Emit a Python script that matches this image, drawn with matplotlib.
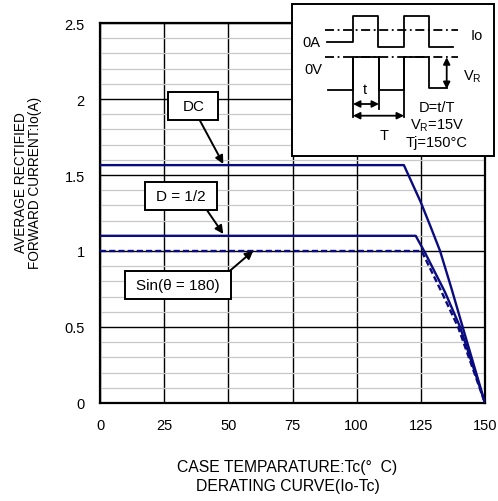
import matplotlib.pyplot as plt
from matplotlib.ticker import MultipleLocator

plt.rcParams['font.family'] = ['Liberation Sans', 'DejaVu Sans']

# derating curves
dc_tc = [0, 118.4, 125, 128.8, 132.5, 137, 141.3, 150]
dc_io = [1.565, 1.565, 1.32, 1.16, 1.0, 0.75, 0.5, 0]
half_tc = [0, 123, 126.6, 134.4, 140.3, 150]
half_io = [1.10, 1.10, 0.99, 0.73, 0.5, 0]
sin_tc = [0, 125.3, 133.1, 139.5, 150]
sin_io = [1.0, 1.0, 0.73, 0.5, 0]

xticks = [0, 25, 50, 75, 100, 125, 150]
yticks = [0, 0.5, 1, 1.5, 2, 2.5]
ylabels = ['0', '0.5', '1', '1.5', '2', '2.5']
navy = '#0b0b80'

W, H = 498, 502
fig = plt.figure(figsize=(W / 100, H / 100), dpi=100)
ax = fig.add_axes([100 / W, 1 - 404 / H, 385 / W, 380 / H])

ax.set_xlim(0, 150)
ax.set_ylim(0, 2.5)
ax.set_xticks(xticks)
ax.set_yticks(yticks)
ax.set_yticklabels(ylabels)
ax.yaxis.set_minor_locator(MultipleLocator(0.1))
ax.grid(which='minor', axis='y', color='#c8c8c8', lw=0.9)
ax.grid(which='major', color='black', lw=1.0)
ax.tick_params(which='both', length=0, labelsize=10.5)
ax.tick_params(axis='y', pad=11)
ax.tick_params(axis='x', pad=11)
for s in ax.spines.values():
    s.set_linewidth(1.6)
ax.set_axisbelow(True)

ax.plot(dc_tc, dc_io, color=navy, lw=1.7, zorder=3)
ax.plot(half_tc, half_io, color=navy, lw=1.7, zorder=3)
ax.plot(sin_tc, sin_io, color=navy, lw=1.7, ls=(0, (2.6, 1.3)), zorder=3)

# overlay in pixel coordinates for the callouts and the waveform sketch
ov = fig.add_axes([0, 0, 1, 1], zorder=5)
ov.set_xlim(0, W)
ov.set_ylim(H, 0)
ov.axis('off')
ov.patch.set_alpha(0)

# callout boxes: (x0, y0, x1, y1) in pixels
def callout(txt, x0, y0, x1, y1):
    ov.add_patch(plt.Rectangle((x0, y0), x1 - x0, y1 - y0, fc='white', ec='black', lw=1.4))
    ov.text((x0 + x1) / 2, (y0 + y1) / 2 + 0.5, txt, ha='center', va='center', fontsize=11)

arr = dict(arrowstyle='-|>', color='black', lw=1.4, mutation_scale=12, shrinkA=0, shrinkB=0)
ov.annotate('', xy=(223.3, 165), xytext=(200, 121.7), arrowprops=arr)
ov.annotate('', xy=(223.3, 235), xytext=(207.3, 211.7), arrowprops=arr)
ov.annotate('', xy=(253.3, 251.7), xytext=(230, 271.7), arrowprops=arr)
callout('DC', 168.3, 92.7, 218.3, 120.7)
callout('D = 1/2', 145, 182.7, 216.7, 210.7)
callout('Sin(θ = 180)', 125, 271.7, 230.7, 300)

# inset sketch
ov.add_patch(plt.Rectangle((292, 5), 202, 152, fc='white', ec='black', lw=1.4))
k = dict(color='black', lw=1.3)
ov.plot([325, 458], [30.7, 30.7], ls=(0, (5, 2, 1, 2)), **k)
ov.plot([325, 458], [58.3, 58.3], ls=(0, (5, 2, 1, 2)), **k)
ov.plot([327, 353, 353, 378, 378, 404, 404, 429, 429, 453],
        [43.3, 43.3, 16.7, 16.7, 47.7, 47.7, 16.7, 16.7, 47.7, 47.7], **k)
ov.plot([328, 353, 353, 379, 379, 404, 404, 429, 429, 447],
        [90.7, 90.7, 58.3, 58.3, 90.7, 90.7, 58.3, 58.3, 89.3, 89.3], **k)
ov.plot([353, 353], [58.3, 118], **k)
ov.plot([379, 379], [58.3, 110], **k)
ov.plot([404, 404], [58.3, 118], **k)
darr = dict(arrowstyle='<|-|>', color='black', lw=1.3, mutation_scale=10, shrinkA=0, shrinkB=0)
ov.annotate('', xy=(353, 105), xytext=(379, 105), arrowprops=darr)
ov.annotate('', xy=(353, 116.7), xytext=(404, 116.7), arrowprops=darr)
ov.annotate('', xy=(446.7, 58.3), xytext=(446.7, 90), arrowprops=darr)
fs = 10.5
ov.text(365, 90, 't', ha='center', va='center', fontsize=fs)
ov.text(384, 136.5, 'T', ha='center', va='center', fontsize=fs)
ov.text(311.5, 43.3, '0A', ha='center', va='center', fontsize=fs)
ov.text(313, 70, '0V', ha='center', va='center', fontsize=fs)
ov.text(476.5, 36.5, 'Io', ha='center', va='center', fontsize=fs)
ov.text(472, 77, 'V$_\\mathregular{R}$', ha='center', va='center', fontsize=fs)
ov.text(437, 108.3, 'D=t/T', ha='center', va='center', fontsize=fs)
ov.text(437, 126, 'V$_\\mathregular{R}$=15V', ha='center', va='center', fontsize=fs)
ov.text(437, 143.3, 'Tj=150°C', ha='center', va='center', fontsize=fs)

# axis titles
ov.text(28, 183, 'AVERAGE RECTIFIED\nFORWARD CURRENT:Io(A)', rotation=90,
        ha='center', va='center', fontsize=9.8, linespacing=1.0)
ov.text(287.5, 468, 'CASE TEMPARATURE:Tc(°  C)', ha='center', va='center', fontsize=11.3)
ov.text(287.5, 487, 'DERATING CURVE(Io-Tc)', ha='center', va='center', fontsize=11.3)

fig.savefig('out.png', dpi=100)
